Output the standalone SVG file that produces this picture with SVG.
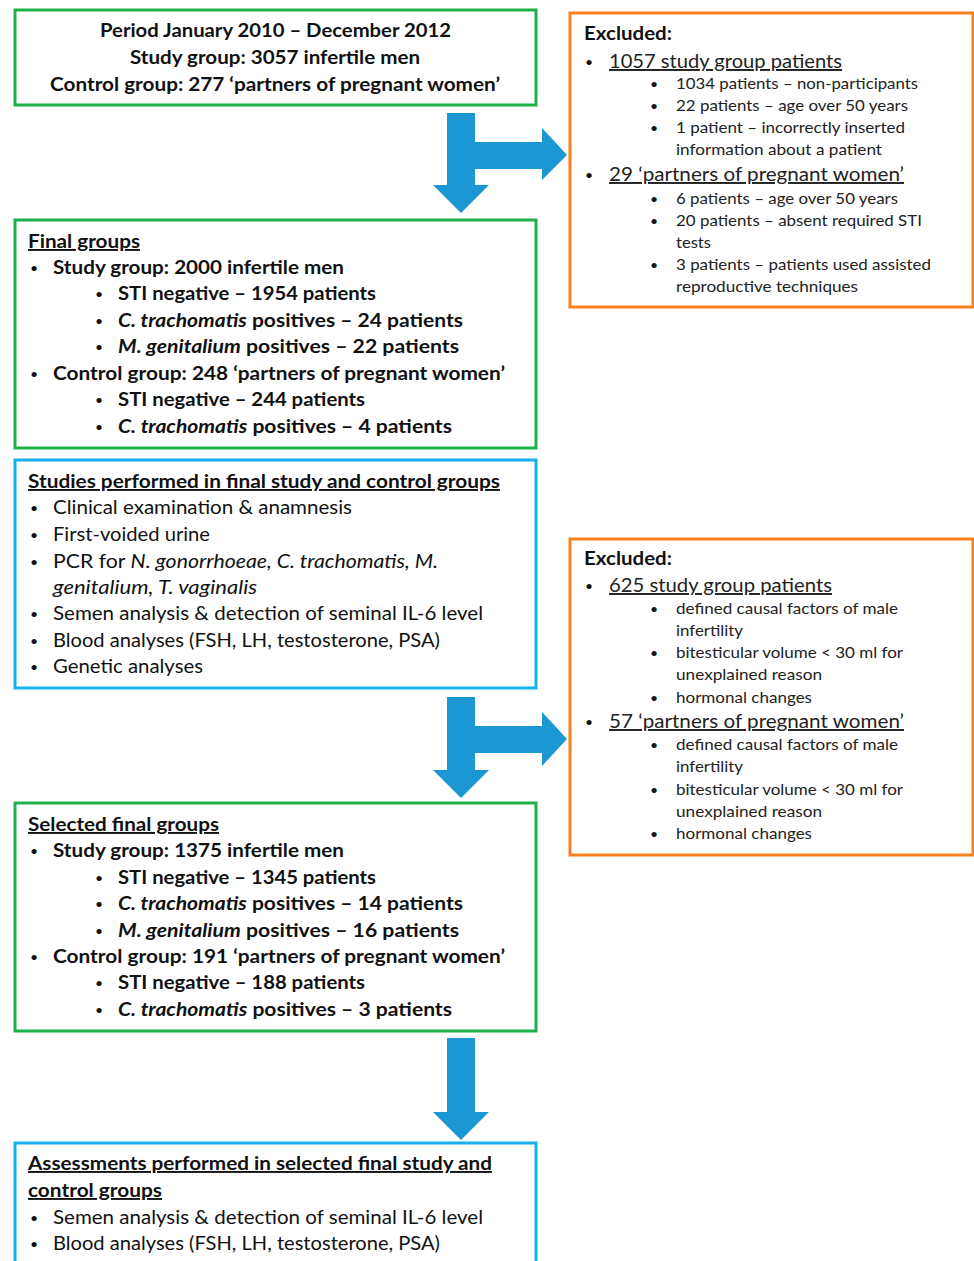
<svg xmlns="http://www.w3.org/2000/svg" width="974" height="1261" viewBox="0 0 974 1261">
<style>
text{font-family:Lato,"Open Sans","Liberation Sans",sans-serif;fill:#111;}
.b{font-weight:bold;font-size:19px;}
.r{font-size:19.5px;}
.h{font-weight:bold;font-size:19px;}
.u{text-decoration:underline;}
.m{font-size:19.5px;fill:#222;}
.s{font-size:16px;fill:#222;}
.dot{font-size:14px;}
.i{font-style:italic;}
.green{fill:#fff;stroke:#1eb04b;stroke-width:3;}
.orange{fill:#fff;stroke:#f7801f;stroke-width:3;}
.blue{fill:#fff;stroke:#14b1ec;stroke-width:3;}
.arrow{fill:#1b97d4;}
</style>
<rect width="974" height="1261" fill="#fff"/>

<g id="connectors">
<path class="arrow" d="M447,113 H475 V142 H542 V128 L567,155 L542,180 V169 H475 V185 H489 L461,213 L433,185 H447 Z"/>
<path class="arrow" d="M447,697 H475 V726 H542 V712 L567,739 L542,766 V753 H475 V770 H489 L461,798 L433,770 H447 Z"/>
<path class="arrow" d="M447,1038 H475 V1112 H489 L461,1140 L433,1112 H447 Z"/>
</g>

<g id="start">
<rect class="green" x="15" y="10" width="521" height="95"/>
<text class="b" x="275.5" y="37" text-anchor="middle" textLength="351" lengthAdjust="spacingAndGlyphs">Period January 2010 – December 2012</text>
<text class="b" x="275" y="64" text-anchor="middle" textLength="290" lengthAdjust="spacingAndGlyphs">Study group: 3057 infertile men</text>
<text class="b" x="275" y="91" text-anchor="middle" textLength="450" lengthAdjust="spacingAndGlyphs">Control group: 277 ‘partners of pregnant women’</text>
</g>

<g id="excluded1">
<rect class="orange" x="570" y="13" width="403" height="294"/>
<text class="h" x="584" y="40" textLength="88" lengthAdjust="spacingAndGlyphs">Excluded:</text>
<text class="dot" x="585" y="67">•</text>
<text class="m u" x="609" y="68" textLength="233" lengthAdjust="spacingAndGlyphs">1057 study group patients</text>
<text class="dot" x="650" y="89">•</text>
<text class="s" x="676" y="89" textLength="242" lengthAdjust="spacingAndGlyphs">1034 patients – non-participants</text>
<text class="dot" x="650" y="111">•</text>
<text class="s" x="676" y="111" textLength="232" lengthAdjust="spacingAndGlyphs">22 patients – age over 50 years</text>
<text class="dot" x="650" y="133">•</text>
<text class="s" x="676" y="133" textLength="229" lengthAdjust="spacingAndGlyphs">1 patient – incorrectly inserted</text>
<text class="s" x="676" y="155" textLength="206" lengthAdjust="spacingAndGlyphs">information about a patient</text>
<text class="dot" x="585" y="180">•</text>
<text class="m u" x="609" y="181" textLength="295" lengthAdjust="spacingAndGlyphs">29 ‘partners of pregnant women’</text>
<text class="dot" x="650" y="204">•</text>
<text class="s" x="676" y="204" textLength="222" lengthAdjust="spacingAndGlyphs">6 patients – age over 50 years</text>
<text class="dot" x="650" y="226">•</text>
<text class="s" x="676" y="226" textLength="246" lengthAdjust="spacingAndGlyphs">20 patients – absent required STI</text>
<text class="s" x="676" y="248" textLength="35" lengthAdjust="spacingAndGlyphs">tests</text>
<text class="dot" x="650" y="270">•</text>
<text class="s" x="676" y="270" textLength="255" lengthAdjust="spacingAndGlyphs">3 patients – patients used assisted</text>
<text class="s" x="676" y="292" textLength="182" lengthAdjust="spacingAndGlyphs">reproductive techniques</text>
</g>

<g id="final-groups">
<rect class="green" x="15" y="220" width="521" height="228"/>
<text class="b u" x="28" y="248" textLength="112" lengthAdjust="spacingAndGlyphs">Final groups</text>
<text class="dot" x="30" y="273">•</text>
<text class="b" x="53" y="274" textLength="291" lengthAdjust="spacingAndGlyphs">Study group: 2000 infertile men</text>
<text class="dot" x="95" y="299">•</text>
<text class="b" x="118" y="300" textLength="258" lengthAdjust="spacingAndGlyphs">STI negative – 1954 patients</text>
<text class="dot" x="95" y="326">•</text>
<text class="b" x="118" y="327" textLength="345" lengthAdjust="spacingAndGlyphs"><tspan class="i">C. trachomatis</tspan> positives – 24 patients</text>
<text class="dot" x="95" y="352">•</text>
<text class="b" x="118" y="353" textLength="341" lengthAdjust="spacingAndGlyphs"><tspan class="i">M. genitalium</tspan> positives – 22 patients</text>
<text class="dot" x="30" y="379">•</text>
<text class="b" x="53" y="380" textLength="452" lengthAdjust="spacingAndGlyphs">Control group: 248 ‘partners of pregnant women’</text>
<text class="dot" x="95" y="405">•</text>
<text class="b" x="118" y="406" textLength="247" lengthAdjust="spacingAndGlyphs">STI negative – 244 patients</text>
<text class="dot" x="95" y="432">•</text>
<text class="b" x="118" y="433" textLength="334" lengthAdjust="spacingAndGlyphs"><tspan class="i">C. trachomatis</tspan> positives – 4 patients</text>
</g>

<g id="studies">
<rect class="blue" x="15" y="460" width="521" height="228"/>
<text class="b u" x="28" y="488" textLength="472" lengthAdjust="spacingAndGlyphs">Studies performed in final study and control groups</text>
<text class="dot" x="30" y="513">•</text>
<text class="r" x="53" y="514" textLength="299" lengthAdjust="spacingAndGlyphs">Clinical examination &amp; anamnesis</text>
<text class="dot" x="30" y="540">•</text>
<text class="r" x="53" y="541" textLength="157" lengthAdjust="spacingAndGlyphs">First-voided urine</text>
<text class="dot" x="30" y="567">•</text>
<text class="r" x="53" y="568" textLength="385" lengthAdjust="spacingAndGlyphs">PCR for <tspan class="i">N. gonorrhoeae, C. trachomatis, M.</tspan></text>
<text class="r i" x="53" y="594" textLength="204" lengthAdjust="spacingAndGlyphs">genitalium, T. vaginalis</text>
<text class="dot" x="30" y="619">•</text>
<text class="r" x="53" y="620" textLength="430" lengthAdjust="spacingAndGlyphs">Semen analysis &amp; detection of seminal IL-6 level</text>
<text class="dot" x="30" y="646">•</text>
<text class="r" x="53" y="647" textLength="387" lengthAdjust="spacingAndGlyphs">Blood analyses (FSH, LH, testosterone, PSA)</text>
<text class="dot" x="30" y="672">•</text>
<text class="r" x="53" y="673" textLength="150" lengthAdjust="spacingAndGlyphs">Genetic analyses</text>
</g>

<g id="excluded2">
<rect class="orange" x="570" y="539" width="403" height="316"/>
<text class="h" x="584" y="565" textLength="88" lengthAdjust="spacingAndGlyphs">Excluded:</text>
<text class="dot" x="585" y="591">•</text>
<text class="m u" x="609" y="592" textLength="223" lengthAdjust="spacingAndGlyphs">625 study group patients</text>
<text class="dot" x="650" y="614">•</text>
<text class="s" x="676" y="614" textLength="222" lengthAdjust="spacingAndGlyphs">defined causal factors of male</text>
<text class="s" x="676" y="636" textLength="67" lengthAdjust="spacingAndGlyphs">infertility</text>
<text class="dot" x="650" y="658">•</text>
<text class="s" x="676" y="658" textLength="227" lengthAdjust="spacingAndGlyphs">bitesticular volume &lt; 30 ml for</text>
<text class="s" x="676" y="680" textLength="146" lengthAdjust="spacingAndGlyphs">unexplained reason</text>
<text class="dot" x="650" y="703">•</text>
<text class="s" x="676" y="703" textLength="136" lengthAdjust="spacingAndGlyphs">hormonal changes</text>
<text class="dot" x="585" y="727">•</text>
<text class="m u" x="609" y="728" textLength="295" lengthAdjust="spacingAndGlyphs">57 ‘partners of pregnant women’</text>
<text class="dot" x="650" y="750">•</text>
<text class="s" x="676" y="750" textLength="222" lengthAdjust="spacingAndGlyphs">defined causal factors of male</text>
<text class="s" x="676" y="772" textLength="67" lengthAdjust="spacingAndGlyphs">infertility</text>
<text class="dot" x="650" y="795">•</text>
<text class="s" x="676" y="795" textLength="227" lengthAdjust="spacingAndGlyphs">bitesticular volume &lt; 30 ml for</text>
<text class="s" x="676" y="817" textLength="146" lengthAdjust="spacingAndGlyphs">unexplained reason</text>
<text class="dot" x="650" y="839">•</text>
<text class="s" x="676" y="839" textLength="136" lengthAdjust="spacingAndGlyphs">hormonal changes</text>
</g>

<g id="selected-final-groups">
<rect class="green" x="15" y="803" width="521" height="228"/>
<text class="b u" x="28" y="831" textLength="191" lengthAdjust="spacingAndGlyphs">Selected final groups</text>
<text class="dot" x="30" y="856">•</text>
<text class="b" x="53" y="857" textLength="291" lengthAdjust="spacingAndGlyphs">Study group: 1375 infertile men</text>
<text class="dot" x="95" y="883">•</text>
<text class="b" x="118" y="884" textLength="258" lengthAdjust="spacingAndGlyphs">STI negative – 1345 patients</text>
<text class="dot" x="95" y="909">•</text>
<text class="b" x="118" y="910" textLength="345" lengthAdjust="spacingAndGlyphs"><tspan class="i">C. trachomatis</tspan> positives – 14 patients</text>
<text class="dot" x="95" y="936">•</text>
<text class="b" x="118" y="937" textLength="341" lengthAdjust="spacingAndGlyphs"><tspan class="i">M. genitalium</tspan> positives – 16 patients</text>
<text class="dot" x="30" y="962">•</text>
<text class="b" x="53" y="963" textLength="452" lengthAdjust="spacingAndGlyphs">Control group: 191 ‘partners of pregnant women’</text>
<text class="dot" x="95" y="988">•</text>
<text class="b" x="118" y="989" textLength="247" lengthAdjust="spacingAndGlyphs">STI negative – 188 patients</text>
<text class="dot" x="95" y="1015">•</text>
<text class="b" x="118" y="1016" textLength="334" lengthAdjust="spacingAndGlyphs"><tspan class="i">C. trachomatis</tspan> positives – 3 patients</text>
</g>

<g id="assessments">
<rect class="blue" x="15" y="1143" width="521" height="140"/>
<text class="b u" x="28" y="1170" textLength="464" lengthAdjust="spacingAndGlyphs">Assessments performed in selected final study and</text>
<text class="b u" x="28" y="1197" textLength="134" lengthAdjust="spacingAndGlyphs">control groups</text>
<text class="dot" x="30" y="1223">•</text>
<text class="r" x="53" y="1224" textLength="430" lengthAdjust="spacingAndGlyphs">Semen analysis &amp; detection of seminal IL-6 level</text>
<text class="dot" x="30" y="1249">•</text>
<text class="r" x="53" y="1250" textLength="387" lengthAdjust="spacingAndGlyphs">Blood analyses (FSH, LH, testosterone, PSA)</text>
</g>
</svg>
